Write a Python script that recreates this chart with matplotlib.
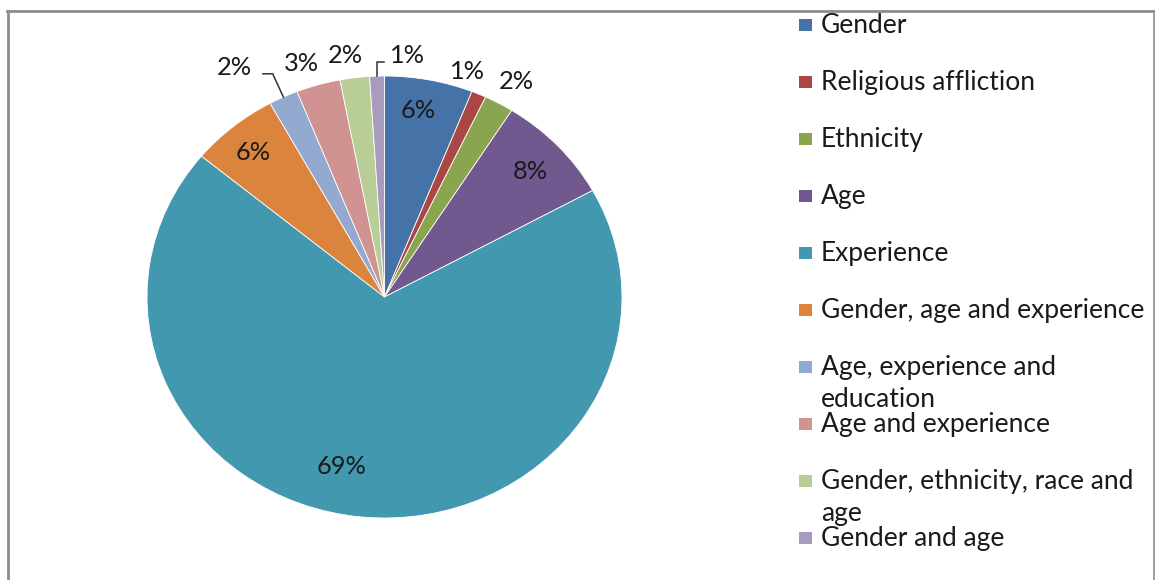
import matplotlib
matplotlib.use("Agg")
import matplotlib.pyplot as plt
from matplotlib.lines import Line2D
from matplotlib.patches import Rectangle
import numpy as np

plt.rcParams['font.family'] = ['Lato', 'DejaVu Sans']

categories = [
    "Gender",
    "Religious affliction",
    "Ethnicity",
    "Age",
    "Experience",
    "Gender, age and experience",
    "Age, experience and\neducation",
    "Age and experience",
    "Gender, ethnicity, race and\nage",
    "Gender and age",
]
shares = [6, 1, 2, 8, 69, 6, 2, 3, 2, 1]
colors = ["#4572A7", "#AA4643", "#89A54E", "#71588F", "#4198AF",
          "#DB843D", "#93A9CF", "#D19392", "#B9CD96", "#A99BBD"]

# label anchor positions (axes data units, pie radius = 1)
label_pos = [(0.143, 0.842), (0.35, 1.02), (0.556, 0.975), (0.615, 0.566),
             (-0.181, -0.769), (-0.552, 0.652), (-0.632, 1.040),
             (-0.348, 1.058), (-0.166, 1.095), (0.095, 1.095)]
# slices whose labels get a leader line
leader = {6: "left", 9: "right"}

W, H = 1155, 580
fig = plt.figure(figsize=(W / 100, H / 100), dpi=100)

# chart frame
frame_kw = dict(transform=fig.transFigure, color="#8c8c8c")
fig.add_artist(Line2D([7.5 / W, 7.5 / W], [0, 1 - 11 / H], lw=2.0, **frame_kw))
fig.add_artist(Line2D([6.5 / W, 1154 / W], [1 - 11 / H, 1 - 11 / H], lw=2.0, **frame_kw))
fig.add_artist(Line2D([1154 / W, 1154 / W], [0, 1 - 11 / H], lw=1.2, **frame_kw))

# pie drawn in an axes slightly wider than tall
cx0, cx1, cy0, cy1 = 147, 622, 76, 518
ax = fig.add_axes([cx0 / W, 1 - cy1 / H, (cx1 - cx0) / W, (cy1 - cy0) / H])
wedges, _ = ax.pie(shares, colors=colors, startangle=90, counterclock=False,
                   radius=1, wedgeprops=dict(edgecolor="white", linewidth=0.6))
ax.set_aspect("auto")
ax.set_xlim(-1, 1)
ax.set_ylim(-1, 1)
ax.axis("off")

for i, (v, (lx, ly)) in enumerate(zip(shares, label_pos)):
    ax.text(lx, ly, f"{v}%", ha="center", va="center", fontsize=18.3,
            color="#1a1a1a", clip_on=False)
    if i in leader:
        w = wedges[i]
        mid = np.deg2rad((w.theta1 + w.theta2) / 2)
        px, py = np.cos(mid), np.sin(mid)
        ey = ly - 0.03
        if leader[i] == "left":
            pts = [(px, py), (px - 0.045, ey), (lx + 0.12, ey)]
        else:
            pts = [(px, py), (px, ey), (px + 0.03, ey)]
        xs, ys = zip(*pts)
        ax.plot(xs, ys, color="#333333", lw=1.1, clip_on=False)

# legend
for i, (name, c) in enumerate(zip(categories, colors)):
    base = 33 + 57 * i
    fig.add_artist(Rectangle((799 / W, 1 - (base - 2) / H), 13 / W, 12 / H,
                             transform=fig.transFigure, facecolor=c,
                             edgecolor="none"))
    for k, line in enumerate(name.split("\n")):
        fig.text(821 / W, 1 - (base + 32 * k) / H, line, ha="left",
                 va="baseline", fontsize=19, color="#1a1a1a")

fig.savefig("out.png", dpi=100, facecolor="white")
